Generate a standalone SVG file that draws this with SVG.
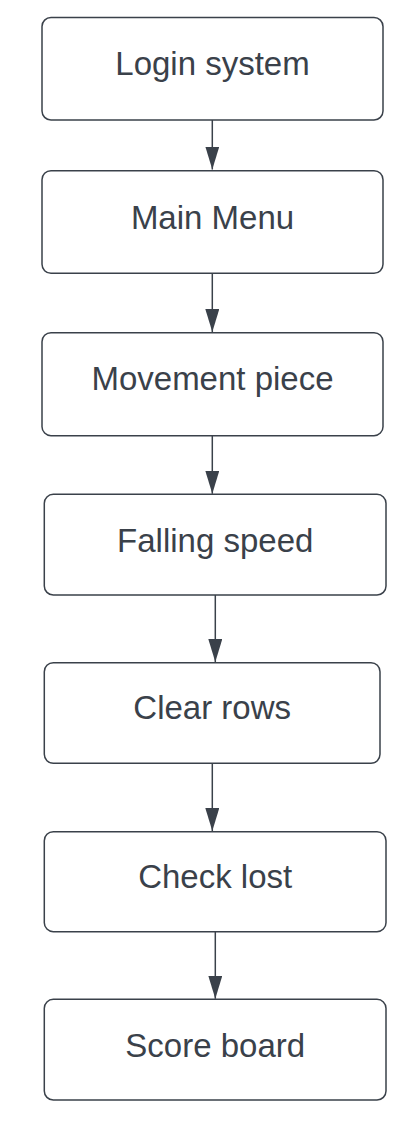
<svg xmlns="http://www.w3.org/2000/svg" width="416" height="1126" viewBox="0 0 416 1126">
<style>
.box{fill:#ffffff;stroke:#3a414a;stroke-width:1.5}
.lbl{font-family:"Liberation Sans",Arial,sans-serif;font-size:33px;fill:#3a414a;text-anchor:middle}
.conn{stroke:#3a414a;stroke-width:1.5;fill:none}
</style>
<defs>
<marker id="ah" markerUnits="userSpaceOnUse" markerWidth="23" markerHeight="14" refX="23" refY="7" orient="auto" viewBox="0 0 23 14">
<path d="M0,0 L23,7 L0,14 Z" fill="#3a414a"/>
</marker>
</defs>
<rect width="416" height="1126" fill="#ffffff"/>
<g id="connectors">
<path class="conn" d="M212.3,120 L212.3,169.5" marker-end="url(#ah)"/>
<path class="conn" d="M212.3,273.3 L212.3,332" marker-end="url(#ah)"/>
<path class="conn" d="M212.3,435.7 L212.3,493.8" marker-end="url(#ah)"/>
<path class="conn" d="M215.3,595 L215.3,662" marker-end="url(#ah)"/>
<path class="conn" d="M212.3,763.3 L212.3,831" marker-end="url(#ah)"/>
<path class="conn" d="M215.3,931.7 L215.3,998.8" marker-end="url(#ah)"/>
</g>
<g id="login">
<rect class="box" x="42" y="17.5" width="341" height="102.5" rx="9"/>
<text class="lbl" x="212.5" y="75">Login system</text>
</g>
<g id="mainmenu">
<rect class="box" x="42" y="170.7" width="341" height="102.6" rx="9"/>
<text class="lbl" x="212.5" y="229">Main Menu</text>
</g>
<g id="movement">
<rect class="box" x="42" y="332.7" width="341" height="103" rx="9"/>
<text class="lbl" x="212.5" y="390">Movement piece</text>
</g>
<g id="falling">
<rect class="box" x="44.3" y="494.3" width="341.7" height="100.7" rx="9"/>
<text class="lbl" x="215.2" y="551.7">Falling speed</text>
</g>
<g id="clear">
<rect class="box" x="44.3" y="662.7" width="335.7" height="100.6" rx="9"/>
<text class="lbl" x="212.2" y="718.5">Clear rows</text>
</g>
<g id="check">
<rect class="box" x="44.3" y="831.7" width="341.7" height="100" rx="9"/>
<text class="lbl" x="215.2" y="888.3">Check lost</text>
</g>
<g id="score">
<rect class="box" x="44.3" y="999.3" width="341.7" height="100.7" rx="9"/>
<text class="lbl" x="215.2" y="1056.7">Score board</text>
</g>
</svg>
